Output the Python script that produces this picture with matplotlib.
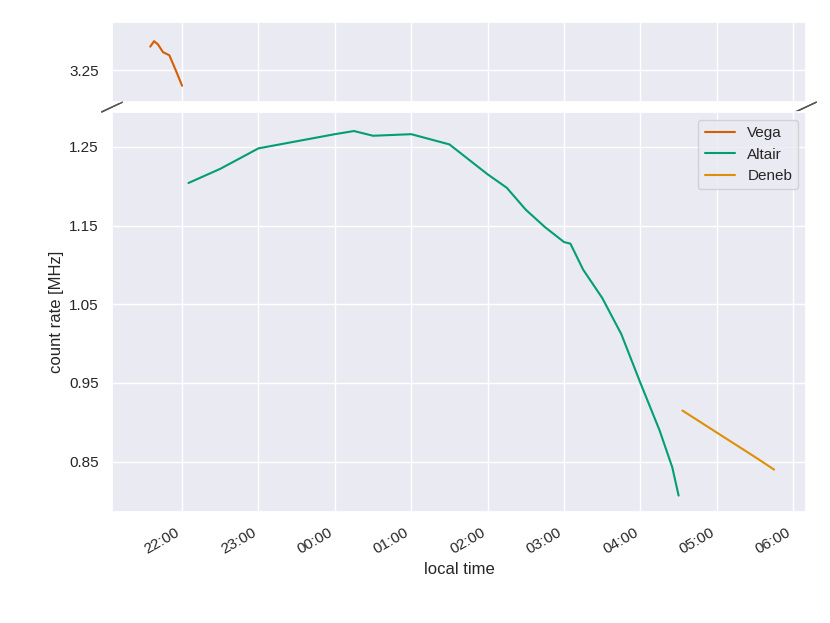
import matplotlib
matplotlib.use("Agg")
import matplotlib.pyplot as plt
import matplotlib.dates as mdates
import seaborn as sns
from datetime import datetime

sns.set_theme(style="darkgrid")
plt.rcParams['font.family'] = ['Liberation Sans', 'DejaVu Sans']

def t(s):
    h, m = map(int, s.split(":"))
    d = datetime(2021, 7, 1) if h >= 12 else datetime(2021, 7, 2)
    return d.replace(hour=h, minute=m)

vega_t = ["21:35", "21:38", "21:41", "21:45", "21:50", "21:55", "22:00"]
vega_v = [3.280, 3.287, 3.283, 3.273, 3.269, 3.250, 3.230]
altair_t = ["22:05", "22:30", "22:45", "23:00", "23:30", "00:00", "00:15", "00:30", "01:00", "01:30",
            "02:00", "02:15", "02:30", "02:45", "03:00", "03:05", "03:15", "03:30", "03:45",
            "04:00", "04:15", "04:25", "04:30"]
altair_v = [1.204, 1.222, 1.235, 1.248, 1.257, 1.266, 1.270, 1.264, 1.266, 1.253,
            1.215, 1.198, 1.170, 1.148, 1.129, 1.127, 1.094, 1.058, 1.012,
            0.950, 0.890, 0.843, 0.807]
deneb_t = ["04:33", "05:00", "05:30", "05:45"]
deneb_v = [0.915, 0.887, 0.856, 0.840]

pal = sns.color_palette("colorblind")
fig = plt.figure(figsize=(8.3, 6.23), dpi=100)
axt = fig.add_axes([0.135, 0.836, 0.836, 0.128])
axb = fig.add_axes([0.135, 0.178, 0.836, 0.642])

for ax in (axt, axb):
    ax.plot([t(s) for s in vega_t], vega_v, color=pal[3], label="Vega")
    ax.plot([t(s) for s in altair_t], altair_v, color=pal[2], label="Altair")
    ax.plot([t(s) for s in deneb_t], deneb_v, color=pal[1], label="Deneb")
    ax.set_xlim(t("21:05"), t("06:10"))
    ax.xaxis.set_major_locator(mdates.HourLocator())
    ax.xaxis.set_major_formatter(mdates.DateFormatter("%H:%M"))

axt.set_ylim(3.209, 3.311)
axt.set_yticks([3.25])
axt.tick_params(labelbottom=False)
axb.set_ylim(0.786, 1.294)
axb.set_yticks([0.85, 0.95, 1.05, 1.15, 1.25])
axb.set_yticklabels(["0.85", "0.95", "1.05", "1.15", "1.25"])
plt.setp(axb.get_xticklabels(), rotation=30, ha="right")
axb.set_xlabel("local time")
axb.set_ylabel("count rate [MHz]")
axb.legend(loc="upper right", facecolor="#EAEAF2")

d = 0.015
kw = dict(color="#555555", clip_on=False, lw=1)
for x in (0, 1):
    axt.plot([x - d, x + d], [-0.12, 0.0], transform=axt.transAxes, **kw)
    axb.plot([x - d, x + d], [1.0, 1.025], transform=axb.transAxes, **kw)

fig.savefig("out.png", dpi=100)
